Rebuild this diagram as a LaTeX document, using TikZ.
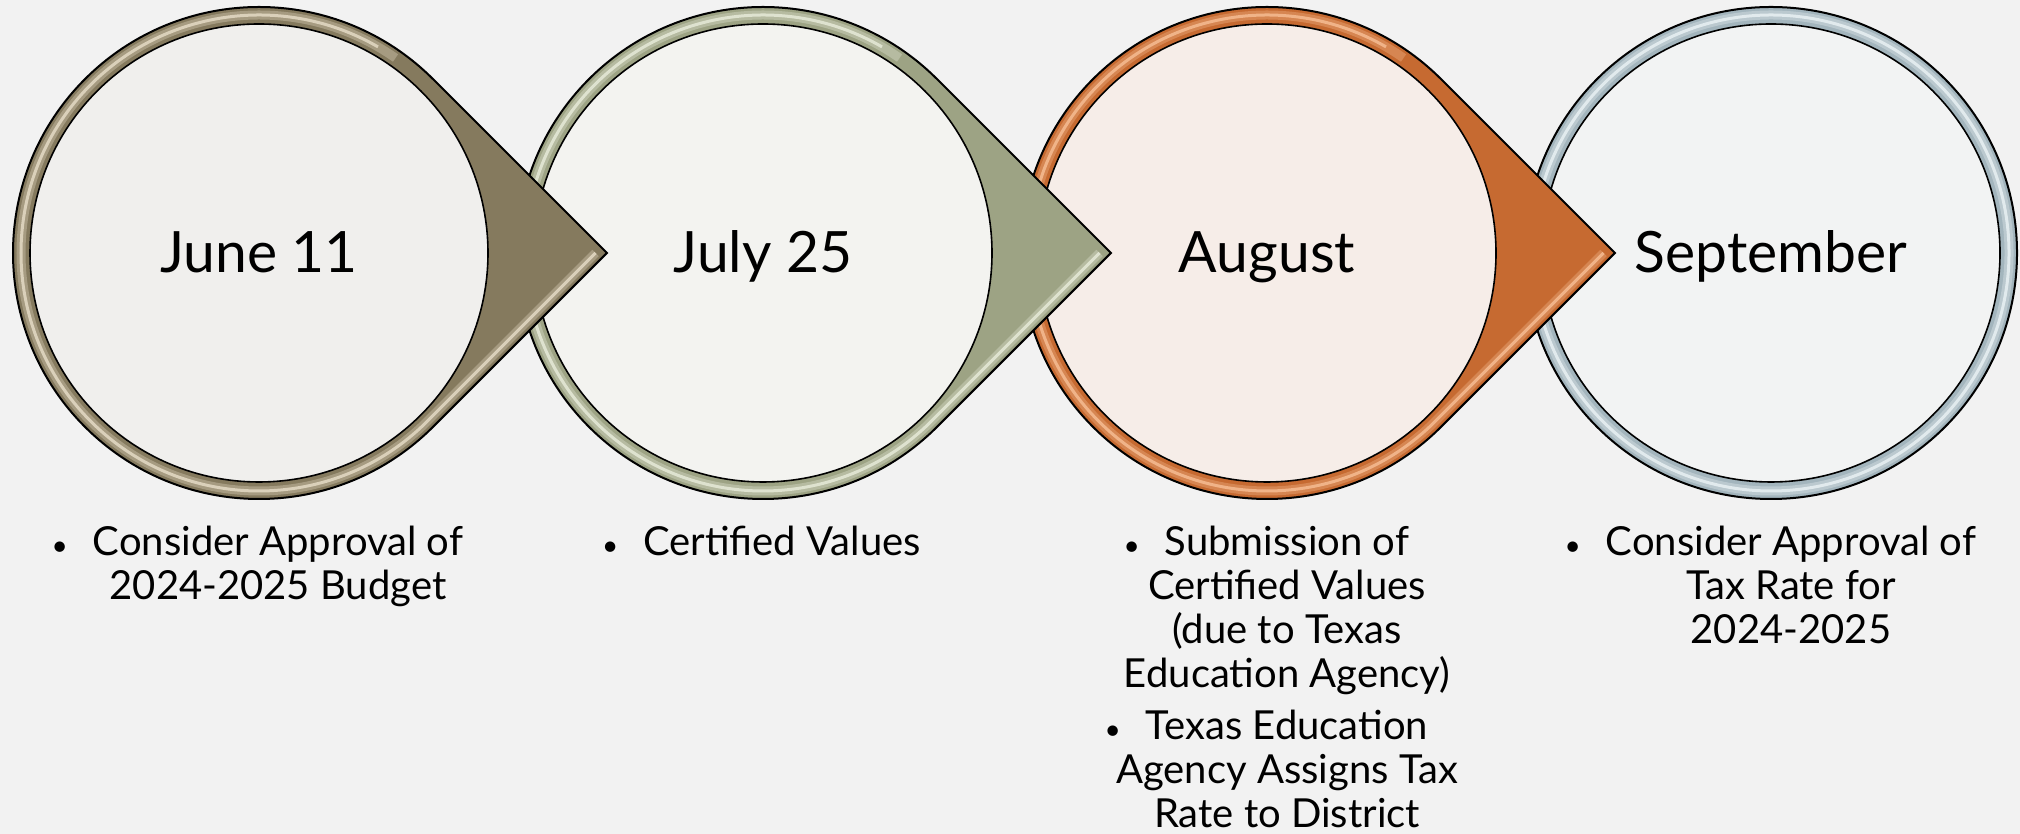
\documentclass[tikz,border=0pt]{standalone}
\usepackage{fontspec}
\setmainfont{Lato}
\usetikzlibrary{calc}

\definecolor{pagebg}{HTML}{F2F2F2}
\definecolor{taupe}{HTML}{857A5E}
\definecolor{taupehi}{HTML}{E4DAC4}
\definecolor{taupein}{HTML}{F0EFED}
\definecolor{sage}{HTML}{9DA384}
\definecolor{sagehi}{HTML}{E6EAD8}
\definecolor{sagein}{HTML}{F3F3F0}
\definecolor{rust}{HTML}{C66A31}
\definecolor{rusthi}{HTML}{F5BC92}
\definecolor{rustin}{HTML}{F6EDE8}
\definecolor{steel}{HTML}{A3B5BD}
\definecolor{steelhi}{HTML}{E8F0F3}
\definecolor{steelin}{HTML}{F2F3F3}

% radii of the ring: outer edge, highlight line, inner disc
\newcommand\Rout{246}
\newcommand\Rmid{238}
\newcommand\Rin{229}
% distance from centre to the pointer tip (outer and highlight)
\newcommand\Tout{347.9}
\newcommand\Tmid{336.6}

% teardrop with its point to the right: #1 centre, #2 fill, #3 highlight
\newcommand\dropbody[3]{%
  \draw[outline, fill=#2] ($(#1)+(45:\Rout pt)$) -- ($(#1)+(\Tout pt,0)$)
    -- ($(#1)+(-45:\Rout pt)$) arc[start angle=-45, end angle=-315, radius=\Rout pt] -- cycle;
  \draw[#3, line width=9pt, opacity=.35] ($(#1)+(\Tmid pt,0)$) -- ($(#1)+(-45:\Rmid pt)$)
    arc[start angle=-45, end angle=-305, radius=\Rmid pt];
  \draw[#3, line width=3pt, opacity=.85] ($(#1)+(\Tmid pt,0)$) -- ($(#1)+(-45:\Rmid pt)$)
    arc[start angle=-45, end angle=-300, radius=\Rmid pt];
}
% plain ring for the last step: #1 centre, #2 fill, #3 highlight
\newcommand\ringbody[3]{%
  \draw[outline, fill=#2] (#1) circle[radius=\Rout pt];
  \draw[#3, line width=9pt, opacity=.35] (#1) circle[radius=\Rmid pt];
  \draw[#3, line width=3pt, opacity=.85] (#1) circle[radius=\Rmid pt];
}
% hanging bullet in front of a centred first line
\newcommand\hangbullet{\llap{{\fontsize{28}{28}\selectfont\textbullet}\hspace{25pt}}}

\begin{document}
\begin{tikzpicture}[x=1pt, y=1pt,
  outline/.style={draw=black, line width=2pt, line join=miter},
  disc/.style={circle, draw=black, line width=1.6pt, minimum size=458pt, inner sep=0pt},
  month/.style={font=\fontsize{57}{64}\selectfont, anchor=base, inner sep=0pt},
  item/.style={font=\fontsize{40}{44}\selectfont, align=center, anchor=north, inner sep=0pt}]

\fill[pagebg] (0,0) rectangle (2020,834);
\useasboundingbox (0,0) rectangle (2020,834);

\coordinate (c1) at (259,581);
\coordinate (c2) at (763,581);
\coordinate (c3) at (1267,581);
\coordinate (c4) at (1771,581);

% step 4: September
\ringbody{c4}{steel}{steelhi}
\node[disc, fill=steelin] (d4) at (c4) {};
\node[month] (m4) at ($(c4)+(0,-20)$) {September};

% step 3: August
\dropbody{c3}{rust}{rusthi}
\node[disc, fill=rustin] (d3) at (c3) {};
\node[month] (m3) at ($(c3)+(0,-20)$) {August};

% step 2: July 25
\dropbody{c2}{sage}{sagehi}
\node[disc, fill=sagein] (d2) at (c2) {};
\node[month] (m2) at ($(c2)+(0,-20)$) {July 25};

% step 1: June 11
\dropbody{c1}{taupe}{taupehi}
\node[disc, fill=taupein] (d1) at (c1) {};
\node[month] (m1) at ($(c1)+(0,-20)$) {June 11};

% notes under each step
\node[item] (n1) at (278,309.8)
  {\strut\hangbullet Consider Approval of\\2024-2025 Budget};
\node[item] (n2) at (782,309.8)
  {\strut\hangbullet Certified Values};
\node[item] (n3a) at (1287,309.8)
  {\strut\hangbullet Submission of\\Certified Values\\(due to Texas\\Education Agency)};
\node[item] (n3b) at (1287,125.8)
  {\strut\hangbullet Texas Education\\Agency Assigns Tax\\Rate to District};
\node[item] (n4) at (1791,309.8)
  {\strut\hangbullet Consider Approval of\\Tax Rate for\\2024-2025};

\end{tikzpicture}
\end{document}
